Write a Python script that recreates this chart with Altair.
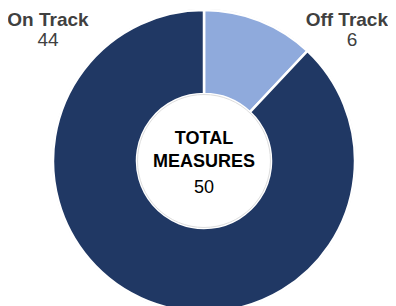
import altair as alt
import pandas as pd

categories = ["Off Track", "On Track"]
values = [6, 44]
colors = ["#8FAADC", "#203864"]
center_title = ["TOTAL", "MEASURES"]

total = sum(values)
df = pd.DataFrame({"category": categories, "value": values, "order": [0, 1]})

CX, CY = 196, 153
R_OUT, R_IN = 151, 67

base = alt.Chart(df)

arc = base.mark_arc(
    x=CX, y=CY, outerRadius=R_OUT, innerRadius=R_IN,
    stroke="white", strokeWidth=2.5
).encode(
    theta=alt.Theta("value:Q", stack=True),
    color=alt.Color("category:N", scale=alt.Scale(domain=categories, range=colors), legend=None),
    order=alt.Order("order:Q"),
)

ring = alt.Chart(pd.DataFrame({"a": [0]})).mark_point(
    shape="circle", filled=False, stroke="#d0d0d0", strokeWidth=1, size=(2 * R_OUT + 1) ** 2
).encode(x=alt.value(CX), y=alt.value(CY))

inner = alt.Chart(pd.DataFrame({"a": [0]})).mark_point(
    shape="circle", filled=False, stroke="#d0d0d0", strokeWidth=1, size=(2 * R_IN - 1) ** 2
).encode(x=alt.value(CX), y=alt.value(CY))

def label(cat, x, align="center", xnum=None):
    d = df[df.category == cat]
    name = alt.Chart(d).mark_text(
        x=x, y=12, font="Liberation Sans", fontSize=19, fontWeight="bold", color="#404040",
        baseline="middle", align=align
    ).encode(text="category:N")
    num = alt.Chart(d).mark_text(
        x=xnum if xnum is not None else x, y=32, font="Liberation Sans", fontSize=19, color="#404040",
        baseline="middle"
    ).encode(text="value:Q")
    return name + num

center_df = pd.DataFrame({"t": center_title + [str(total)], "row": [0, 1, 2]})
t1 = alt.Chart(center_df[center_df.row == 0]).mark_text(
    x=CX, y=131, font="Liberation Sans", fontSize=18, fontWeight="bold", color="black", baseline="middle"
).encode(text="t:N")
t2 = alt.Chart(center_df[center_df.row == 1]).mark_text(
    x=CX, y=154, font="Liberation Sans", fontSize=18, fontWeight="bold", color="black", baseline="middle"
).encode(text="t:N")
t3 = alt.Chart(center_df[center_df.row == 2]).mark_text(
    x=CX, y=180, font="Liberation Sans", fontSize=18, color="black", baseline="middle"
).encode(text="t:N")

chart = alt.layer(
    ring, arc, inner, label("On Track", 40), label("Off Track", 380, align="right", xnum=344), t1, t2, t3
).properties(
    width=380, height=298, padding=0, autosize=alt.AutoSizeParams(type="none")
).configure_view(stroke=None)

chart.save("out.html", embed_options={"renderer": "svg", "actions": False})
